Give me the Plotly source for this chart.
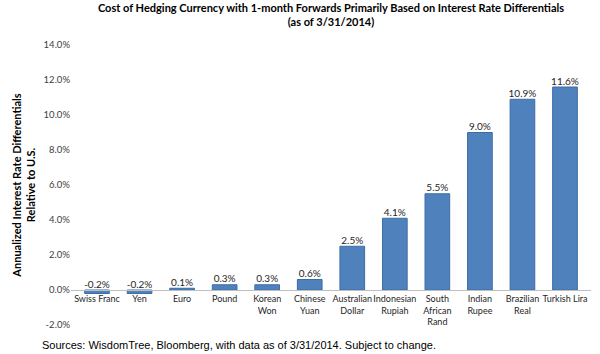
import plotly.graph_objects as go

categories = ["Swiss Franc", "Yen", "Euro", "Pound", "Korean<br>Won", "Chinese<br>Yuan",
              "Australian<br>Dollar", "Indonesian<br>Rupiah", "South<br>African<br>Rand",
              "Indian<br>Rupee", "Brazilian<br>Real", "Turkish Lira"]
values = [-0.2, -0.2, 0.1, 0.3, 0.3, 0.6, 2.5, 4.1, 5.5, 9.0, 10.9, 11.6]
y_ticks = [-2, 0, 2, 4, 6, 8, 10, 12, 14]

FONT = "Lato"

fig = go.Figure()
fig.add_trace(go.Bar(
    x=categories, y=values,
    marker=dict(color="#4F81BD", line=dict(color="#3C6DA6", width=1)),
    hoverinfo="skip",
))
fig.add_trace(go.Scatter(
    x=categories, y=[max(v, 0) for v in values],
    mode="text", text=[f"{v:.1f}%" for v in values],
    textposition="top center",
    textfont=dict(family=FONT, size=10, color="#262626"),
    hoverinfo="skip",
))

fig.update_layout(
    width=600, height=354,
    margin=dict(l=71, r=9, t=45, b=29),
    paper_bgcolor="white", plot_bgcolor="white",
    showlegend=False,
    bargap=0.42,
    title=dict(
        text="Cost of Hedging Currency with 1-month Forwards Primarily Based on Interest Rate Differentials<br>(as of 3/31/2014)",
        x=0.5, xref="paper", xanchor="center",
        y=1 - 12 / 354, yref="container", yanchor="top",
        font=dict(family=FONT, size=11, color="#000000", weight="bold"),
    ),
    xaxis=dict(
        anchor="free", position=0.125,
        showline=True, linecolor="#BFBFBF", linewidth=1,
        ticks="", showgrid=False, zeroline=False, tickangle=0,
        tickfont=dict(family=FONT, size=9, color="#262626"),
    ),
    yaxis=dict(
        range=[-2, 14], tickvals=y_ticks,
        ticktext=[f"{t:.1f}%" for t in y_ticks],
        showgrid=False, zeroline=False, showline=False, ticks="",
        tickfont=dict(family=FONT, size=9.5, color="#404040"),
        title=dict(text="Annualized Interest Rate Differentials<br>Relative to U.S.",
                   font=dict(family=FONT, size=11, color="#000000", weight="bold"),
                   standoff=5),
    ),
    annotations=[dict(
        text="Sources: WisdomTree, Bloomberg, with data as of 3/31/2014. Subject to change.",
        xref="paper", yref="paper", x=(40 - 71) / 520, y=-(345 - 325) / 280,
        xanchor="left", yanchor="middle", showarrow=False,
        font=dict(family="Liberation Sans", size=11, color="#000000"),
    )],
)

fig.write_html("out.html")
